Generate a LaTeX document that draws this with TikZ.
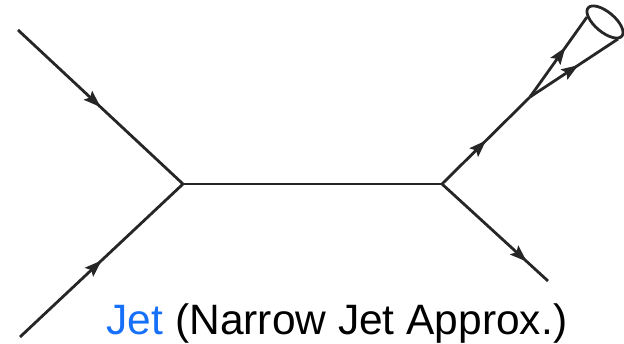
\documentclass[tikz,border=0pt]{standalone}
\usepackage{fontspec}
\setmainfont{Liberation Sans}
\usetikzlibrary{arrows.meta, decorations.markings}
\definecolor{jetblue}{RGB}{22,112,250}

\begin{document}
\begin{tikzpicture}[x=1pt, y=1pt, line width=2.8pt, color=black!85]
            \tikzset{
                fermion/.style={postaction={decorate}, decoration={markings,
                    mark=at position #1 with {\arrow{Stealth[length=17pt, width=12pt, inset=3pt]}}}},
                fermion/.default=0.5
            };
            \useasboundingbox (0, 0) rectangle (624, 344);
            % incoming legs and the two vertices
            \coordinate (in1) at (18, 314);
            \coordinate (in2) at (20, 7);
            \coordinate (v1) at (183, 160);
            \coordinate (v2) at (442, 160);
            % outgoing legs, the jet splits at (split)
            \coordinate (out) at (548, 63);
            \coordinate (split) at (530, 247);
            \coordinate (jet1) at (587, 327);
            \coordinate (jet2) at (618, 305);
            \coordinate (cone) at (605, 322);
            \draw[fermion] (in1) -- (v1);
            \draw[fermion] (in2) -- (v1);
            \draw (v1) -- (v2);
            \draw[fermion] (v2) -- (split);
            \draw[fermion=0.8] (v2) -- (out);
            \draw[fermion=0.62] (split) -- (jet1);
            \draw[fermion=0.55] (split) -- (jet2);
            \draw[rotate=-40] (cone) ellipse [x radius=22, y radius=10];
            \node[anchor=base, font=\fontsize{42.5}{42.5}\selectfont, text=black] (label) at (337, 9)
                {\textcolor{jetblue}{Jet} (Narrow Jet Approx.)};
        \end{tikzpicture}
\end{document}
